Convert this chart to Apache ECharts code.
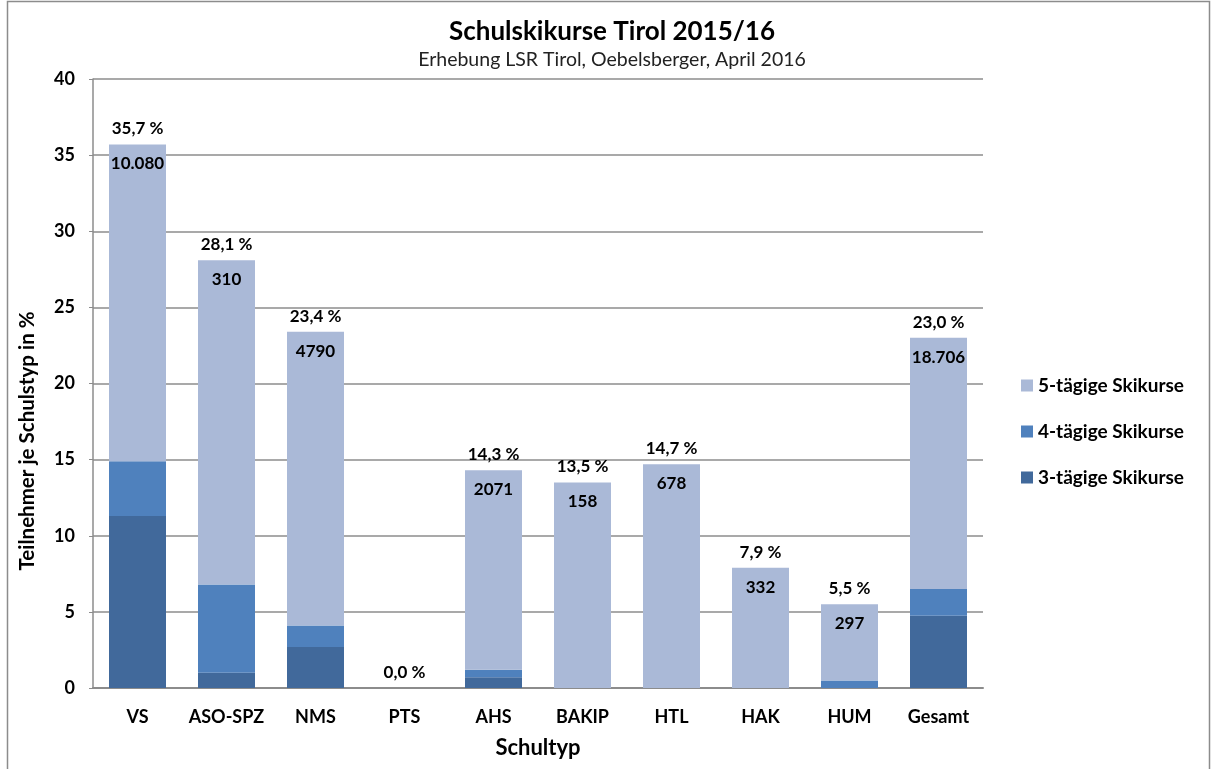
<!DOCTYPE html>
<html>
<head>
<meta charset="utf-8">
<script src="https://cdn.jsdelivr.net/npm/echarts@6/dist/echarts.min.js"></script>
<style>
  html, body { margin: 0; padding: 0; background: #fff; }
  #chart { width: 1212px; height: 769px; }
</style>
</head>
<body>
<div id="chart"></div>
<script>
  // Schultypen
  const kategorien = ['VS', 'ASO-SPZ', 'NMS', 'PTS', 'AHS', 'BAKIP', 'HTL', 'HAK', 'HUM', 'Gesamt']
  // Anteile in % je Kurstyp
  const dreiTage = [11.3, 1.0, 2.7, 0, 0.7, 0, 0, 0, 0, 4.75]
  const vierTage = [3.6, 5.8, 1.4, 0, 0.5, 0, 0, 0, 0.5, 1.75]
  const fuenfTage = [20.8, 21.3, 19.3, 0, 13.1, 13.5, 14.7, 7.9, 5.0, 16.5]
  // Gesamtanteil und Teilnehmerzahl
  const gesamtProzent = [35.7, 28.1, 23.4, 0.0, 14.3, 13.5, 14.7, 7.9, 5.5, 23.0]
  const teilnehmer = ['10.080', '310', '4790', '', '2071', '158', '678', '332', '297', '18.706']
  const yTicks = { min: 0, max: 40, interval: 5 }

  const schrift = 'Lato, "Open Sans", sans-serif'
  let chart = echarts.init(document.getElementById('chart'))

  chart.setOption({
    textStyle: { fontFamily: schrift },
    title: {
      text: 'Schulskikurse Tirol 2015/16',
      subtext: 'Erhebung LSR Tirol, Oebelsberger, April 2016',
      left: 607,
      textAlign: 'center',
      top: 14,
      itemGap: 5,
      textStyle: { fontSize: 26, fontWeight: 'bold', color: '#000', fontFamily: schrift },
      subtextStyle: { fontSize: 19.5, color: '#222', fontFamily: schrift }
    },
    graphic: [{
      type: 'rect',
      shape: { x: 7.5, y: 1.5, width: 1202, height: 790 },
      style: { fill: 'none', stroke: '#8c8c8c', lineWidth: 1.5 },
      silent: true
    }],
    legend: {
      orient: 'vertical',
      left: 1016,
      top: 371,
      itemWidth: 12,
      itemHeight: 12,
      itemGap: 27,
      icon: 'rect',
      data: ['5-tägige Skikurse', '4-tägige Skikurse', '3-tägige Skikurse'],
      textStyle: { fontSize: 19, fontWeight: 'bold', color: '#000', fontFamily: schrift }
    },
    grid: {
      left: 93,
      right: 229,
      top: 79,
      bottom: 81
    },
    xAxis: {
      type: 'category',
      data: kategorien,
      name: 'Schultyp',
      nameLocation: 'middle',
      nameGap: 49,
      nameTextStyle: { fontSize: 22, fontWeight: 'bold', color: '#000' },
      axisLine: { lineStyle: { color: '#8c8c8c', width: 2 } },
      axisTick: { show: false },
      axisLabel: { interval: 0, fontSize: 18, fontWeight: 'bold', color: '#000', margin: 20 }
    },
    yAxis: {
      type: 'value',
      min: yTicks.min,
      max: yTicks.max,
      interval: yTicks.interval,
      name: 'Teilnehmer je Schulstyp in %',
      nameLocation: 'middle',
      nameRotate: 90,
      nameGap: 55,
      nameTextStyle: { fontSize: 20.5, fontWeight: 'bold', color: '#000', padding: [0, 115, 0, 0] },
      axisLine: { show: true, lineStyle: { color: '#8c8c8c', width: 1.5 } },
      axisTick: { show: true, length: 4, lineStyle: { color: '#8c8c8c' } },
      axisLabel: { fontSize: 18, fontWeight: 'bold', color: '#000', margin: 18 },
      splitLine: { lineStyle: { color: '#8c8c8c', width: 1.5 } }
    },
    series: [
      {
        name: '3-tägige Skikurse',
        type: 'bar',
        stack: 'kurse',
        barWidth: 57,
        itemStyle: { color: '#41699b' },
        data: dreiTage
      },
      {
        name: '4-tägige Skikurse',
        type: 'bar',
        stack: 'kurse',
        itemStyle: { color: '#4f81bd' },
        data: vierTage
      },
      {
        name: '5-tägige Skikurse',
        type: 'bar',
        stack: 'kurse',
        itemStyle: { color: '#aab9d7' },
        label: {
          show: true,
          position: 'insideTop',
          distance: 11,
          fontSize: 17,
          fontWeight: 'bold',
          color: '#000',
          formatter: p => teilnehmer[p.dataIndex]
        },
        data: fuenfTage
      },
      {
        name: 'gesamt',
        type: 'scatter',
        symbolSize: 0,
        itemStyle: { color: '#000', opacity: 1 },
        silent: true,
        z: 5,
        label: {
          show: true,
          position: 'top',
          distance: 7,
          fontSize: 17,
          fontWeight: 'bold',
          color: '#000',
          formatter: p => gesamtProzent[p.dataIndex].toFixed(1).replace('.', ',') + ' %'
        },
        data: gesamtProzent
      }
    ]
  })
</script>
</body>
</html>
